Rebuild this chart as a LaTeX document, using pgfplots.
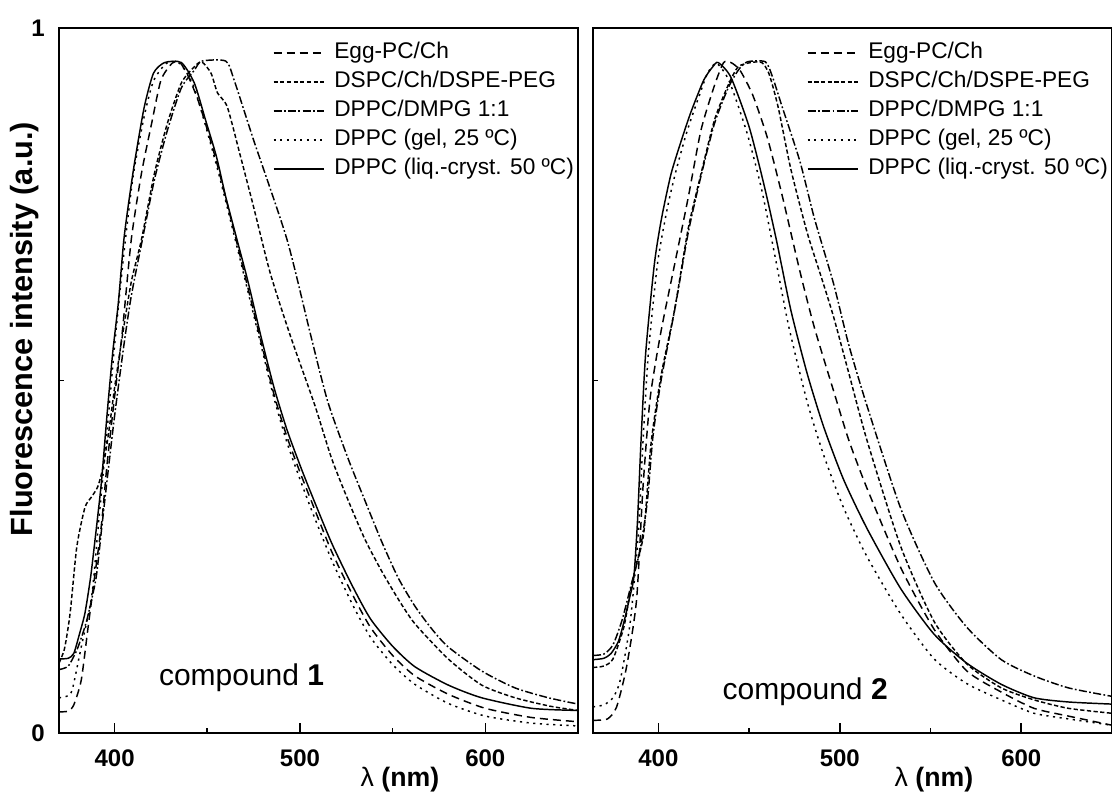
\documentclass[border=0pt]{standalone}
\usepackage{fontspec}
\setmainfont{Liberation Sans}
\usepackage{pgfplots}
\pgfplotsset{compat=1.18}

\tikzset{
  egg/.style={black, line width=1.1pt, dash pattern=on 6pt off 3.8pt},
  dspc/.style={black, line width=1.1pt, dash pattern=on 3.2pt off 1.8pt},
  dmpg/.style={black, line width=1.1pt, dash pattern=on 6pt off 1.8pt on 1.3pt off 1.8pt},
  gel/.style={black, line width=1.1pt, dash pattern=on 1.6pt off 3.4pt},
  liq/.style={black, line width=1.1pt},
}

\pgfplotsset{
  panel/.style={
    scale only axis,
    width=389.25pt, height=528.75pt,
    xmax=650, ymin=0, ymax=1,
    xtick={400,500,600}, xticklabels={400,500,600},
    minor xtick={450,550},
    ytick={0,1}, minor ytick={0.5},
    tick align=inside, xtick pos=bottom, ytick pos=left,
    major tick length=7.5pt, minor tick length=4pt,
    axis line style={line width=1.5pt},
    every tick/.style={black, line width=1.2pt},
    every minor tick/.style={black, line width=1.2pt},
    tick label style={font=\fontsize{18}{20}\selectfont\bfseries},
    /pgf/number format/assume math mode=true,
    xticklabel style={anchor=center, yshift=-19pt},
    yticklabel style={anchor=center, xshift=-15.75pt},
    xlabel={{\mdseries λ} (nm)},
    xlabel style={at={(rel axis cs:0.657,-0.0667)}, anchor=center,
      font=\fontsize{20}{22}\selectfont\bfseries},
    legend image code/.code={\draw[#1] (0pt,0pt) -- (37.5pt,0pt);},
    legend cell align=left,
    legend style={at={(rel axis cs:0.412,0.98)}, anchor=north west,
      draw=none, fill=none, inner sep=0pt, outer sep=0pt,
      row sep=5.25pt, column sep=7.5pt,
      font=\fontsize{17}{19}\selectfont,
      nodes={inner sep=0pt, text height=12.5pt, text depth=4pt}},
    every axis plot/.append style={smooth, tension=0.4},
  }
}

\begin{document}
\begin{tikzpicture}
\useasboundingbox (0pt,0pt) rectangle (834pt,594.75pt);

% ---------- compound 1 ----------
\begin{axis}[panel,
  at={(44.25pt,45pt)}, anchor=south west,
  xmin=370,
  yticklabels={0,1},
  ylabel={Fluorescence intensity (a.u.)},
  ylabel style={at={(rel axis cs:-0.0655,0.573)}, anchor=center,
    font=\fontsize{23}{25}\selectfont\bfseries},
]
\addplot[egg] coordinates {
 (370,0.030) (375,0.031) (378,0.040) (382,0.075) (385.5,0.146) (389,0.217)
 (393,0.298) (396,0.383) (400,0.477) (404,0.565) (409,0.700) (414.5,0.794)
 (420,0.865) (425,0.926) (431,0.950) (435,0.952) (440,0.930) (446,0.890)
 (455,0.810) (466,0.695) (479,0.555) (486,0.480) (493,0.420) (500,0.370)
 (506,0.330) (517,0.258) (528,0.198) (538,0.150) (550,0.110) (562,0.081)
 (580,0.055) (600,0.035) (625,0.022) (650,0.016)};
\addplot[dspc] coordinates {
 (370,0.099) (373,0.120) (376,0.170) (379.6,0.264) (384,0.320) (387.6,0.335)
 (391,0.350) (394,0.380) (397,0.430) (400,0.490) (404,0.560) (409,0.640)
 (414.5,0.700) (421.5,0.794) (428.5,0.865) (436,0.922) (443,0.945) (447,0.952)
 (452,0.936) (455.5,0.908) (460.8,0.888) (468,0.817) (475,0.746) (484,0.652)
 (495,0.562) (508,0.465) (517,0.390) (526,0.330) (535,0.275) (544,0.230)
 (553,0.190) (562,0.155) (580,0.105) (598,0.068) (616,0.050) (635,0.038)
 (650,0.032)};
\addplot[dmpg] coordinates {
 (370,0.090) (375,0.095) (380,0.120) (385,0.160) (390,0.220) (393,0.290)
 (396,0.360) (400,0.450) (405,0.550) (409,0.620) (415,0.700) (421.5,0.785)
 (428.5,0.855) (436,0.915) (443,0.940) (447,0.953) (460,0.953) (464.5,0.926)
 (475,0.841) (493,0.700) (506,0.562) (515,0.470) (526,0.389) (535,0.330)
 (544,0.272) (553,0.220) (562,0.180) (571,0.148) (580,0.122) (598,0.088)
 (616,0.064) (634,0.050) (650,0.041)};
\addplot[gel] coordinates {
 (370,0.050) (374,0.052) (377,0.060) (382,0.122) (387.6,0.193) (391,0.288)
 (396,0.430) (400,0.550) (405,0.680) (410,0.790) (416,0.875) (421,0.925)
 (428,0.950) (435,0.950) (443,0.915) (455,0.805) (466,0.690) (479,0.550)
 (486,0.475) (493,0.412) (500,0.360) (506,0.318) (517,0.246) (528,0.184)
 (538,0.136) (550,0.097) (562,0.069) (580,0.042) (600,0.024) (625,0.014)
 (650,0.010)};
\addplot[liq] coordinates {
 (370,0.105) (375,0.106) (378,0.113) (381,0.140) (384,0.170) (387,0.220)
 (389,0.264) (391,0.310) (393,0.359) (396,0.454) (399,0.540) (402,0.610)
 (405,0.700) (408,0.760) (411,0.813) (416,0.888) (421,0.936) (427,0.951)
 (436,0.951) (443,0.922) (449,0.870) (455,0.817) (460,0.760) (466,0.700)
 (472,0.640) (479,0.562) (486,0.490) (493,0.430) (500,0.380) (506,0.340)
 (517,0.270) (528,0.210) (538,0.162) (550,0.123) (562,0.094) (580,0.068)
 (598,0.050) (625,0.035) (650,0.032)};
\legend{Egg-PC/Ch, DSPC/Ch/DSPE-PEG, DPPC/DMPG 1:1, {DPPC (gel, 25 ºC)}, {DPPC (liq.-cryst. 50 ºC)}}
\node[anchor=base, font=\fontsize{22.5}{25}\selectfont] at (axis cs:468.5,0.068) {compound \textbf{1}};
\end{axis}

% ---------- compound 2 ----------
\begin{axis}[panel,
  at={(444.75pt,45pt)}, anchor=south west,
  xmin=364,
  yticklabels={},
]
\addplot[egg] coordinates {
 (364,0.018) (372,0.020) (377,0.037) (382.5,0.094) (388,0.189) (391.5,0.347)
 (395.5,0.475) (401.5,0.570) (409,0.665) (416.5,0.760) (423.5,0.855) (431,0.919)
 (436,0.951) (440,0.951) (445,0.940) (452,0.905) (460,0.845) (468,0.765)
 (478,0.655) (486,0.575) (496.6,0.485) (505,0.415) (515,0.347) (533.5,0.235)
 (552,0.147) (570,0.088) (589,0.058) (607,0.035) (626,0.024) (650,0.011)};
\addplot[dspc] coordinates {
 (364,0.093) (370,0.095) (375,0.105) (381,0.150) (384.5,0.200) (388,0.240)
 (392,0.284) (396,0.411) (401.5,0.507) (409,0.601) (416.5,0.716) (423.5,0.793)
 (431,0.870) (438.5,0.919) (444,0.945) (451,0.951) (457,0.951) (461,0.935)
 (466,0.888) (473,0.800) (482,0.710) (490,0.645) (496.6,0.590) (505,0.510)
 (515,0.415) (533.5,0.265) (552,0.158) (570,0.098) (589,0.064) (607,0.047)
 (626,0.035) (650,0.028)};
\addplot[dmpg] coordinates {
 (364,0.110) (370,0.112) (375,0.125) (380,0.160) (385,0.210) (390,0.260)
 (394,0.330) (397,0.420) (401.5,0.500) (409,0.600) (416.5,0.710) (423.5,0.790)
 (431,0.865) (438.5,0.915) (444,0.940) (449,0.952) (459,0.952) (463,0.930)
 (468,0.890) (478,0.811) (486,0.730) (496.6,0.637) (505,0.550) (515,0.464)
 (533.5,0.319) (552,0.214) (570,0.150) (589,0.104) (607,0.081) (626,0.064)
 (650,0.052)};
\addplot[gel] coordinates {
 (364,0.037) (370,0.040) (375,0.050) (379,0.075) (384.5,0.157) (389,0.284)
 (391.5,0.411) (394.5,0.538) (399.5,0.665) (405,0.745) (410,0.800) (416,0.855)
 (422,0.900) (427,0.935) (432,0.950) (439,0.925) (449,0.850) (457,0.770)
 (464,0.680) (472,0.575) (482,0.470) (491,0.395) (502,0.320) (515,0.250)
 (533.5,0.169) (552,0.105) (570,0.070) (589,0.047) (607,0.028) (626,0.020)
 (650,0.011)};
\addplot[liq] coordinates {
 (364,0.104) (370,0.106) (374,0.113) (378,0.130) (381,0.157) (384,0.190)
 (386.5,0.221) (388.5,0.300) (390.4,0.411) (393,0.538) (397.8,0.665) (401.7,0.729)
 (407,0.793) (413,0.843) (418,0.881) (425,0.926) (430,0.945) (433,0.951)
 (440,0.930) (450,0.860) (458,0.780) (465,0.700) (473,0.600) (482,0.510)
 (491,0.435) (502,0.360) (515,0.290) (533.5,0.205) (552,0.140) (570,0.099)
 (589,0.069) (607,0.050) (626,0.044) (650,0.041)};
\legend{Egg-PC/Ch, DSPC/Ch/DSPE-PEG, DPPC/DMPG 1:1, {DPPC (gel, 25 ºC)}, {DPPC (liq.-cryst. 50 ºC)}}
\node[anchor=base, font=\fontsize{22.5}{25}\selectfont] at (axis cs:480.9,0.048) {compound \textbf{2}};
\end{axis}
\end{tikzpicture}
\end{document}
